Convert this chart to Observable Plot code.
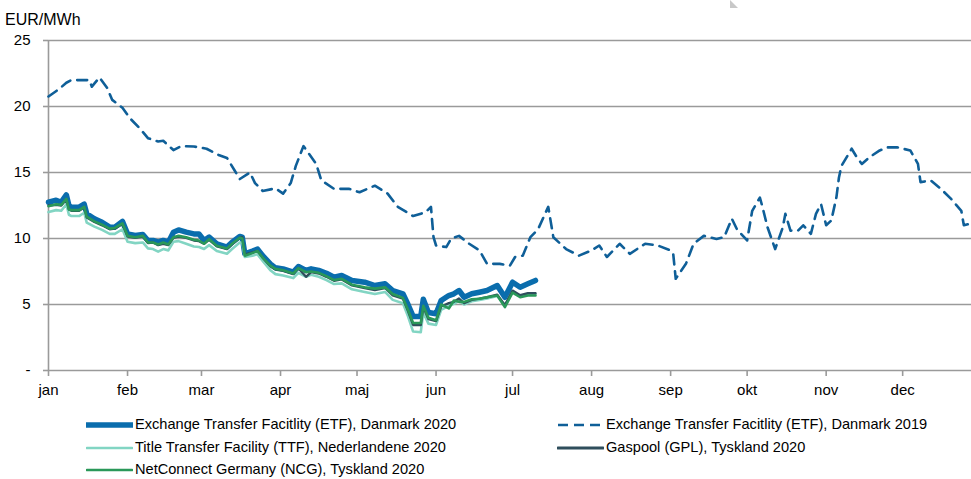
<!DOCTYPE html>
<html>
<head>
<meta charset="utf-8">
<script src="https://cdn.jsdelivr.net/npm/d3@7"></script>
<script src="https://cdn.jsdelivr.net/npm/@observablehq/plot@0.6"></script>
<style>
  html, body { margin: 0; padding: 0; background: #fff; }
  #wrap { position: relative; width: 971px; height: 479px; overflow: hidden; font-family: "Liberation Sans", Arial, sans-serif; color: #000; }
  #unit { position: absolute; left: 5px; top: 11px; font-size: 16px; }
  #tri { position: absolute; left: 730px; top: 0; width: 0; height: 0; border-left: 8px solid #c8c8c8; border-top: 8px solid transparent; }
  .lg { position: absolute; font-size: 14.6px; line-height: 17px; white-space: nowrap; display: flex; align-items: center; }
  .lg svg { margin-right: 2px; }
</style>
</head>
<body>
<div id="wrap">
  <div id="chart"></div>
  <div id="unit">EUR/MWh</div>
  <div id="tri"></div>
  <div id="legend"></div>
</div>
<script>
// ---- data ----
const monthLabels = ["jan","feb","mar","apr","maj","jun","jul","aug","sep","okt","nov","dec"];
const yTicks = [0, 5, 10, 15, 20, 25];

const dates2020 = ["2020-01-01","2020-01-04","2020-01-06","2020-01-08","2020-01-09","2020-01-10","2020-01-13","2020-01-15","2020-01-16","2020-01-19",
"2020-01-22","2020-01-25","2020-01-27","2020-01-30","2020-02-01","2020-02-04","2020-02-07","2020-02-09","2020-02-11","2020-02-13",
"2020-02-15","2020-02-17","2020-02-19","2020-02-21","2020-02-24","2020-02-27","2020-02-29","2020-03-02","2020-03-04","2020-03-07",
"2020-03-11","2020-03-13","2020-03-16","2020-03-17","2020-03-18","2020-03-21","2020-03-23","2020-03-25","2020-03-28","2020-03-30",
"2020-04-02","2020-04-06","2020-04-08","2020-04-11","2020-04-13","2020-04-16","2020-04-19","2020-04-22","2020-04-25","2020-04-29",
"2020-05-04","2020-05-08","2020-05-12","2020-05-15","2020-05-19","2020-05-21","2020-05-23","2020-05-26","2020-05-27","2020-05-29",
"2020-06-01","2020-06-03","2020-06-06","2020-06-08","2020-06-10","2020-06-12","2020-06-15","2020-06-18","2020-06-21","2020-06-25",
"2020-06-28","2020-07-01","2020-07-04","2020-07-07","2020-07-10"];

const etf2020 = [12.75,12.9,12.75,13.3,12.5,12.37,12.37,12.6,11.87,11.49,
11.23,10.86,10.86,11.3,10.35,10.23,10.3,9.85,9.85,9.72,
9.85,9.72,10.48,10.65,10.48,10.35,10.35,9.85,10.1,9.6,
9.35,9.72,10.15,10.1,8.84,9.05,9.2,8.7,8.08,7.78,
7.7,7.45,7.88,7.58,7.7,7.58,7.37,7.07,7.2,6.82,
6.69,6.44,6.57,6.06,5.81,5.0,4.1,4.1,5.4,4.4,
4.3,5.3,5.68,5.81,6.06,5.55,5.81,5.93,6.06,6.44,
5.55,6.69,6.31,6.57,6.82];

const ttf2020 = [12.0,12.15,12.1,12.6,11.8,11.7,11.7,11.95,11.2,10.9,
10.65,10.35,10.35,10.7,9.75,9.65,9.7,9.25,9.2,9.0,
9.2,9.1,9.75,9.8,9.6,9.4,9.35,9.2,9.5,9.05,
8.85,9.2,9.7,9.7,8.6,8.7,8.8,8.3,7.6,7.3,
7.2,7.0,7.4,7.1,7.25,7.1,6.85,6.55,6.6,6.15,
5.95,5.8,5.95,5.35,5.1,4.1,2.95,2.9,4.4,3.55,
3.45,4.6,4.9,5.05,5.3,5.0,5.25,5.35,5.45,5.65,
4.95,5.95,5.65,5.75,5.8];

const gpl2020 = [12.5,12.55,12.5,12.95,12.2,12.1,12.1,12.35,11.6,11.25,
11.0,10.7,10.75,11.1,10.15,10.05,10.15,9.65,9.7,9.5,
9.6,9.5,10.05,10.15,10.05,9.85,9.8,9.6,9.9,9.4,
9.2,9.55,10.05,10.1,8.8,8.95,9.05,8.55,7.9,7.65,
7.55,7.3,7.75,7.1,7.45,7.35,7.1,6.8,6.9,6.45,
6.25,6.1,6.25,5.7,5.45,4.5,3.45,3.45,4.8,3.9,
3.75,4.85,5.1,5.2,5.45,5.1,5.35,5.45,5.55,5.75,
4.95,6.05,5.7,5.85,5.85];

const ncg2020 = [12.45,12.6,12.55,13.0,12.2,12.15,12.15,12.4,11.65,11.3,
11.05,10.75,10.8,11.15,10.2,10.1,10.2,9.7,9.7,9.55,
9.7,9.55,10.1,10.2,10.1,9.9,9.85,9.6,9.95,9.45,
9.25,9.6,10.05,10.0,8.7,8.9,9.05,8.55,7.95,7.7,
7.6,7.35,7.75,7.45,7.5,7.4,7.15,6.85,6.95,6.5,
6.3,6.2,6.3,5.8,5.5,4.6,3.6,3.6,4.9,4.0,
3.8,5.0,4.7,5.3,5.2,5.2,5.4,5.43,5.55,5.68,
4.8,5.9,5.55,5.68,5.68];

const dates2019 = ["2019-01-01","2019-01-05","2019-01-08","2019-01-10","2019-01-17","2019-01-18","2019-01-21","2019-01-24","2019-01-26","2019-01-30",
"2019-02-02","2019-02-06","2019-02-09","2019-02-13","2019-02-15","2019-02-19","2019-02-22","2019-02-27","2019-03-03","2019-03-08",
"2019-03-11","2019-03-14","2019-03-16","2019-03-20","2019-03-22","2019-03-25","2019-03-30","2019-04-02","2019-04-05","2019-04-07",
"2019-04-10","2019-04-15","2019-04-17","2019-04-22","2019-04-28","2019-05-02","2019-05-08","2019-05-13","2019-05-17","2019-05-23",
"2019-05-28","2019-05-30","2019-05-31","2019-06-01","2019-06-05","2019-06-07","2019-06-10","2019-06-14","2019-06-18","2019-06-21",
"2019-06-26","2019-06-30","2019-07-02","2019-07-05","2019-07-08","2019-07-11","2019-07-15","2019-07-17","2019-07-22","2019-07-27",
"2019-08-01","2019-08-04","2019-08-07","2019-08-12","2019-08-16","2019-08-22","2019-08-27","2019-09-01","2019-09-02","2019-09-03",
"2019-09-07","2019-09-10","2019-09-14","2019-09-19","2019-09-22","2019-09-25","2019-09-27","2019-10-01","2019-10-03","2019-10-06",
"2019-10-07","2019-10-09","2019-10-12","2019-10-15","2019-10-16","2019-10-18","2019-10-21","2019-10-23","2019-10-26","2019-10-28",
"2019-10-30","2019-11-01","2019-11-03","2019-11-05","2019-11-06","2019-11-07","2019-11-11","2019-11-13","2019-11-15","2019-11-18",
"2019-11-22","2019-11-25","2019-11-29","2019-12-04","2019-12-07","2019-12-08","2019-12-12","2019-12-16","2019-12-20","2019-12-24",
"2019-12-25","2019-12-27"];

const etf2019 = [20.76,21.3,21.8,22.0,22.0,21.5,22.2,21.4,20.5,19.9,
19.1,18.3,17.6,17.35,17.4,16.7,17.0,16.97,16.8,16.3,
16.1,15.15,14.5,15.0,14.2,13.6,13.8,13.4,14.2,15.5,
17.0,15.65,14.4,13.76,13.76,13.5,14.0,13.4,12.4,11.7,
12.0,12.4,10.1,9.47,9.35,10.0,10.2,9.6,9.1,8.08,
8.08,7.95,8.6,8.7,10.1,10.7,12.4,10.1,9.2,8.7,
9.1,9.47,8.6,9.6,8.84,9.6,9.47,9.1,8.86,6.95,
8.08,9.6,10.2,9.97,10.1,11.5,10.7,9.85,12.1,13.1,
12.4,10.85,9.2,10.85,11.87,10.6,10.6,11.0,10.35,11.87,
12.6,11.0,11.36,13.1,14.6,15.5,16.8,16.16,15.65,16.16,
16.67,16.9,16.9,16.67,15.65,14.27,14.4,13.76,13.0,12.1,
11.0,11.1];

// ---- build ----
const toDate = s => { const [y, m, d] = s.split("-").map(Number); return new Date(Date.UTC(2020, m - 1, d)); };
const rows = (dates, vals) => dates.map((d, i) => ({date: toDate(d), value: vals[i]}));
const sETF20 = rows(dates2020, etf2020);
const sTTF = rows(dates2020, ttf2020);
const sGPL = rows(dates2020, gpl2020);
const sNCG = rows(dates2020, ncg2020);
const sETF19 = rows(dates2019, etf2019);

const colors = {etf20: "#0a6dad", etf19: "#0f5f98", ttf: "#82d5c3", gpl: "#2f4e5c", ncg: "#2a9859"};
const monthTicks = monthLabels.map((m, i) => new Date(Date.UTC(2020, i, 1)));
const grid = "#9a9a9a";

const chart = Plot.plot({
  width: 971,
  height: 400,
  marginTop: 40,
  marginBottom: 30,
  marginLeft: 48,
  marginRight: 0,
  style: {fontFamily: "'Liberation Sans', Arial, sans-serif", color: "#000", background: "#fff", overflow: "visible"},
  x: {type: "utc", domain: [new Date(Date.UTC(2020, 0, 1)), new Date(Date.UTC(2020, 11, 28))]},
  y: {domain: [0, 25]},
  marks: [
    Plot.gridY(yTicks.filter(d => d > 0), {stroke: grid, strokeOpacity: 1, strokeWidth: 1.6}),
    Plot.axisY({ticks: yTicks, tickSize: 5, tickPadding: 13, stroke: grid, strokeWidth: 1.6, strokeOpacity: 1, fontSize: 15, label: null,
      tickFormat: d => d === 0 ? "-" : String(d)}),
    Plot.axisX({ticks: monthTicks, tickSize: 6, tickPadding: 8, stroke: grid, strokeWidth: 1.6, strokeOpacity: 1, fontSize: 15, label: null,
      tickFormat: (d) => monthLabels[d.getUTCMonth()]}),
    Plot.ruleY([0], {stroke: grid, strokeWidth: 1.6}),
    Plot.ruleX([new Date(Date.UTC(2020, 0, 1))], {stroke: grid, strokeWidth: 1.6}),
    Plot.line(sETF19, {x: "date", y: "value", stroke: colors.etf19, strokeWidth: 2.6, strokeDasharray: "10,7", curve: "linear"}),
    Plot.line(sETF20, {x: "date", y: "value", stroke: colors.etf20, strokeWidth: 5.5, curve: "linear", strokeLinejoin: "round"}),
    Plot.line(sTTF, {x: "date", y: "value", stroke: colors.ttf, strokeWidth: 2.6, curve: "linear"}),
    Plot.line(sGPL, {x: "date", y: "value", stroke: colors.gpl, strokeWidth: 2.4, curve: "linear"}),
    Plot.line(sNCG, {x: "date", y: "value", stroke: colors.ncg, strokeWidth: 2.6, curve: "linear"})
  ]
});
document.getElementById("chart").appendChild(chart);

// ---- legend ----
const legendItems = [
  {label: "Exchange Transfer Facitlity (ETF), Danmark 2020", color: colors.etf20, w: 5.5, dash: null, x: 86, y: 424},
  {label: "Exchange Transfer Facitlity (ETF), Danmark 2019", color: colors.etf19, w: 2.6, dash: "10,6", x: 557, y: 424},
  {label: "Title Transfer Facility (TTF), Nederlandene 2020", color: colors.ttf, w: 2.6, dash: null, x: 86, y: 447},
  {label: "Gaspool (GPL), Tyskland 2020", color: colors.gpl, w: 3, dash: null, x: 557, y: 447},
  {label: "NetConnect Germany (NCG), Tyskland 2020", color: colors.ncg, w: 2.6, dash: null, x: 86, y: 469}
];
const lg = document.getElementById("legend");
legendItems.forEach(it => {
  const div = document.createElement("div");
  div.className = "lg";
  div.style.left = it.x + "px";
  div.style.top = (it.y - 8) + "px";
  div.innerHTML = `<svg width="47" height="10"><line x1="1" x2="46" y1="5" y2="5" stroke="${it.color}" stroke-width="${it.w}" ${it.dash ? `stroke-dasharray="${it.dash}"` : 'stroke-linecap="round"'}/></svg><span>${it.label}</span>`;
  lg.appendChild(div);
});
</script>
</body>
</html>
